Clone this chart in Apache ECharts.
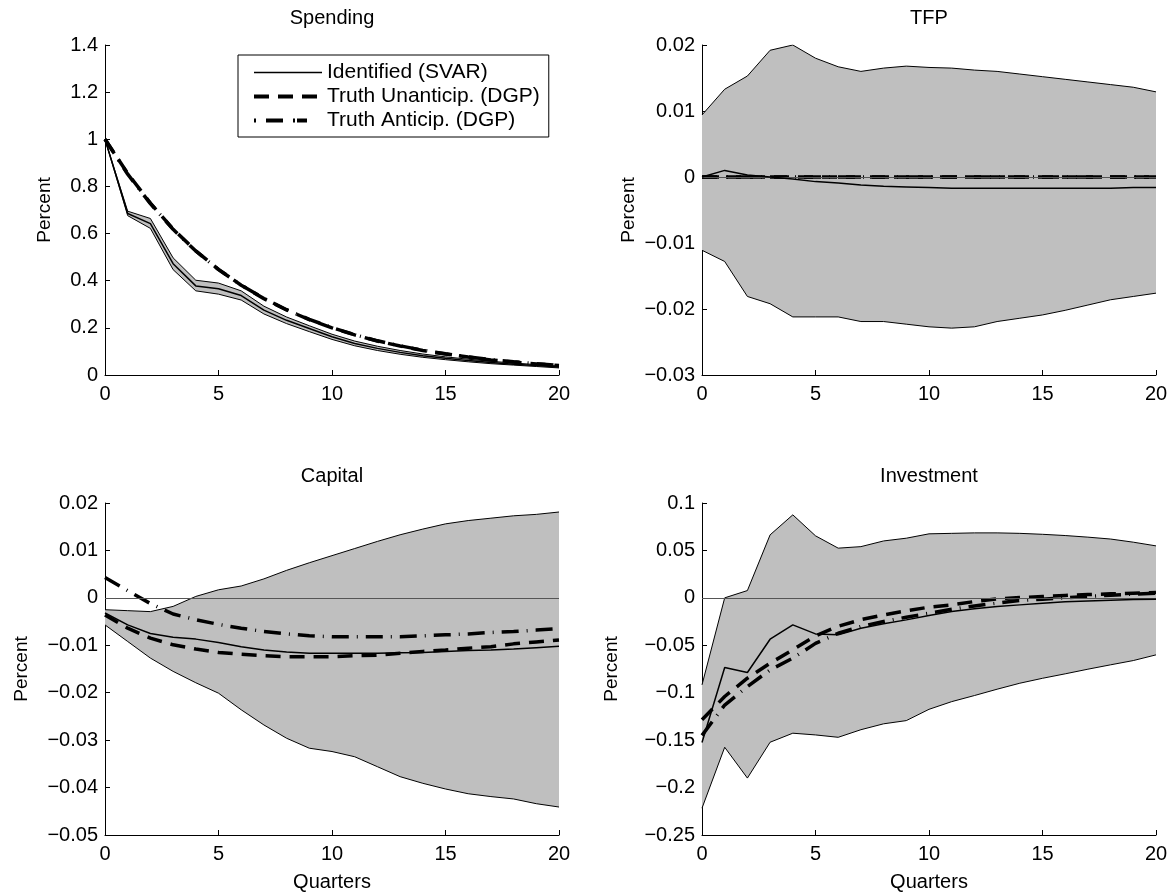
<!DOCTYPE html>
<html>
<head>
<meta charset="utf-8">
<script src="https://cdn.jsdelivr.net/npm/echarts@6/dist/echarts.min.js"></script>
<style>
  html, body { margin: 0; padding: 0; background: #fff; }
  #chart { width: 1173px; height: 893px; }
</style>
</head>
<body>
<div id="chart"></div>
<script>
// horizon (quarters)
const quarters = [0, 1, 2, 3, 4, 5, 6, 7, 8, 9, 10, 11, 12, 13, 14, 15, 16, 17, 18, 19, 20];

// Spending
const spendSvar  = [1, 0.685, 0.642, 0.472, 0.378, 0.366, 0.337, 0.275, 0.232, 0.197, 0.162, 0.134, 0.113, 0.096, 0.082, 0.071, 0.061, 0.053, 0.046, 0.040, 0.034];
const spendLo    = [1, 0.676, 0.622, 0.447, 0.357, 0.343, 0.318, 0.259, 0.218, 0.184, 0.151, 0.124, 0.104, 0.088, 0.075, 0.065, 0.056, 0.048, 0.042, 0.036, 0.030];
const spendHi    = [1, 0.695, 0.664, 0.497, 0.402, 0.390, 0.357, 0.292, 0.246, 0.209, 0.173, 0.144, 0.122, 0.104, 0.089, 0.077, 0.067, 0.058, 0.051, 0.044, 0.038];
const spendUnant = [1, 0.855, 0.729, 0.619, 0.527, 0.448, 0.381, 0.324, 0.276, 0.235, 0.200, 0.170, 0.144, 0.123, 0.104, 0.089, 0.076, 0.064, 0.055, 0.047, 0.040];
const spendAnt   = [1, 0.852, 0.727, 0.618, 0.526, 0.447, 0.381, 0.325, 0.277, 0.236, 0.201, 0.171, 0.145, 0.124, 0.105, 0.090, 0.077, 0.065, 0.056, 0.048, 0.041];

// TFP
const tfpSvar  = [0, 0.001, 0.0003, 0, -0.0003, -0.0007, -0.0009, -0.0012, -0.0014, -0.0015, -0.0016, -0.0017, -0.0017, -0.0017, -0.0017, -0.0017, -0.0017, -0.0017, -0.0017, -0.0016, -0.0016];
const tfpLo    = [-0.0111, -0.0128, -0.0181, -0.0192, -0.0212, -0.0212, -0.0212, -0.0219, -0.0219, -0.0223, -0.0227, -0.0229, -0.0227, -0.0219, -0.0214, -0.0209, -0.0202, -0.0194, -0.0186, -0.0181, -0.0176];
const tfpHi    = [0.0094, 0.0133, 0.0153, 0.0192, 0.0200, 0.0180, 0.0167, 0.0160, 0.0165, 0.0168, 0.0166, 0.0165, 0.0162, 0.0160, 0.0156, 0.0152, 0.0148, 0.0144, 0.0140, 0.0136, 0.0129];
const tfpUnant = [0, 0, 0, 0, 0, 0, 0, 0, 0, 0, 0, 0, 0, 0, 0, 0, 0, 0, 0, 0, 0];
const tfpAnt   = [0, 0, 0, 0, 0, 0, 0, 0, 0, 0, 0, 0, 0, 0, 0, 0, 0, 0, 0, 0, 0];

// Capital
const capSvar  = [-0.0032, -0.0057, -0.0075, -0.0083, -0.0087, -0.0094, -0.0103, -0.0110, -0.0114, -0.0117, -0.0117, -0.0117, -0.0117, -0.0116, -0.0115, -0.0113, -0.0111, -0.0110, -0.0108, -0.0105, -0.0102];
const capLo    = [-0.0057, -0.0092, -0.0127, -0.0155, -0.0179, -0.0201, -0.0236, -0.0268, -0.0296, -0.0317, -0.0324, -0.0335, -0.0356, -0.0377, -0.0391, -0.0403, -0.0413, -0.0419, -0.0424, -0.0434, -0.0441];
const capHi    = [-0.0025, -0.0027, -0.0029, -0.0018, 0.0003, 0.0017, 0.0025, 0.0040, 0.0058, 0.0074, 0.0089, 0.0104, 0.0119, 0.0133, 0.0145, 0.0156, 0.0163, 0.0168, 0.0173, 0.0176, 0.0181];
const capUnant = [-0.0036, -0.0064, -0.0085, -0.0099, -0.0108, -0.0115, -0.0119, -0.0122, -0.0124, -0.0124, -0.0124, -0.0122, -0.0121, -0.0117, -0.0113, -0.0110, -0.0106, -0.0103, -0.0097, -0.0093, -0.0089];
const capAnt   = [0.0043, 0.0015, -0.0012, -0.0034, -0.0046, -0.0056, -0.0064, -0.0071, -0.0076, -0.0080, -0.0082, -0.0082, -0.0082, -0.0082, -0.0080, -0.0078, -0.0076, -0.0073, -0.0071, -0.0068, -0.0065];

// Investment
const invSvar  = [-0.1525, -0.0734, -0.0787, -0.0436, -0.0285, -0.0380, -0.0390, -0.0320, -0.0274, -0.0232, -0.0187, -0.0144, -0.0116, -0.0092, -0.0074, -0.0056, -0.0042, -0.0032, -0.0025, -0.0018, -0.0014];
const invLo    = [-0.2217, -0.1575, -0.1900, -0.1522, -0.1427, -0.1445, -0.1470, -0.1390, -0.1328, -0.1294, -0.1175, -0.1094, -0.1030, -0.0963, -0.0900, -0.0848, -0.0801, -0.0752, -0.0706, -0.0661, -0.0601];
const invHi    = [-0.0917, 0, 0.0077, 0.0664, 0.0875, 0.0654, 0.0524, 0.0540, 0.0600, 0.0629, 0.0675, 0.0680, 0.0685, 0.0685, 0.0680, 0.0670, 0.0657, 0.0640, 0.0620, 0.0587, 0.0548];
const invUnant = [-0.1286, -0.1040, -0.0847, -0.0689, -0.0548, -0.0400, -0.0300, -0.0230, -0.0180, -0.0137, -0.0098, -0.0074, -0.0039, -0.0010, 0.0003, 0.0014, 0.0025, 0.0035, 0.0042, 0.0049, 0.0056];
const invAnt   = [-0.1450, -0.1130, -0.0935, -0.0760, -0.0636, -0.0480, -0.0373, -0.0302, -0.0250, -0.0204, -0.0162, -0.0120, -0.0085, -0.0056, -0.0028, -0.0014, 0, 0.0014, 0.0028, 0.0039, 0.0049];

const names = ['Identified (SVAR)', 'Truth Unanticip. (DGP)', 'Truth Anticip. (DGP)'];

const font = 'Liberation Sans, Arial, Helvetica, sans-serif';
const fs = 20;

const panels = [
    { title: 'Spending',   svar: spendSvar, lo: spendLo, hi: spendHi, unant: spendUnant, ant: spendAnt,
      min: 0, max: 1.4, interval: 0.2, zero: false, xname: '', ygap: 51 },
    { title: 'TFP',        svar: tfpSvar, lo: tfpLo, hi: tfpHi, unant: tfpUnant, ant: tfpAnt,
      min: -0.03, max: 0.02, interval: 0.01, zero: true, xname: '', ygap: 64 },
    { title: 'Capital',    svar: capSvar, lo: capLo, hi: capHi, unant: capUnant, ant: capAnt,
      min: -0.05, max: 0.02, interval: 0.01, zero: true, xname: 'Quarters', ygap: 74 },
    { title: 'Investment', svar: invSvar, lo: invLo, hi: invHi, unant: invUnant, ant: invAnt,
      min: -0.25, max: 0.1, interval: 0.05, zero: true, xname: 'Quarters', ygap: 81 }
];

const grids = [
    { left: 105, top: 45,  width: 454, height: 330 },
    { left: 702, top: 45,  width: 454, height: 330 },
    { left: 105, top: 503, width: 454, height: 332 },
    { left: 702, top: 503, width: 454, height: 332 }
];

function fmt(v) {
    return String(+v.toFixed(4)).replace('-', '\u2212');
}

function pairs(arr) {
    return quarters.map((q, i) => [q, arr[i]]);
}

let titles = [], xAxes = [], yAxes = [], series = [];

panels.forEach((p, k) => {
    let g = grids[k];
    titles.push({
        text: p.title,
        left: g.left + g.width / 2,
        top: g.top - 37,
        textAlign: 'center',
        padding: 0,
        textStyle: { fontSize: fs, fontWeight: 'normal', color: '#000', fontFamily: font }
    });
    xAxes.push({
        gridIndex: k, type: 'value', min: 0, max: 20, interval: 5,
        name: p.xname, nameLocation: 'middle', nameGap: 37,
        nameTextStyle: { fontSize: fs, color: '#000', fontFamily: font },
        axisLine: { show: true, onZero: false, lineStyle: { color: '#000', width: 1 } },
        axisTick: { show: true, inside: true, length: 5, lineStyle: { color: '#000' } },
        axisLabel: { color: '#000', fontSize: fs, fontFamily: font, margin: 9 },
        splitLine: { show: false }
    });
    yAxes.push({
        gridIndex: k, type: 'value', min: p.min, max: p.max, interval: p.interval,
        name: 'Percent', nameLocation: 'middle', nameGap: p.ygap,
        nameTextStyle: { fontSize: 19, color: '#000', fontFamily: font },
        axisLine: { show: true, onZero: false, lineStyle: { color: '#000', width: 1 } },
        axisTick: { show: true, inside: true, length: 5, lineStyle: { color: '#000' } },
        axisLabel: { color: '#000', fontSize: fs, fontFamily: font, margin: 7, formatter: fmt },
        splitLine: { show: false }
    });

    // shaded band
    series.push({
        type: 'custom', xAxisIndex: k, yAxisIndex: k, silent: true, clip: true, z: 1,
        data: quarters.map((q, i) => [q, p.lo[i], p.hi[i]]),
        encode: { x: 0, y: [1, 2] },
        renderItem: function (params, api) {
            if (params.dataIndex !== 0) return;
            let pts = [];
            for (let i = 0; i < quarters.length; i++) pts.push(api.coord([quarters[i], p.hi[i]]));
            for (let i = quarters.length - 1; i >= 0; i--) pts.push(api.coord([quarters[i], p.lo[i]]));
            return { type: 'polygon', shape: { points: pts }, style: { fill: '#bfbfbf', stroke: null } };
        }
    });

    let edge = {
        type: 'line', xAxisIndex: k, yAxisIndex: k, symbol: 'none', silent: true, z: 3,
        lineStyle: { color: '#000', width: 1 }
    };
    let lower = Object.assign({}, edge, { name: 'band-lo', data: pairs(p.lo) });
    if (p.zero) {
        lower.markLine = {
            silent: true, symbol: 'none', label: { show: false },
            lineStyle: { color: '#555', width: 1, type: 'solid' },
            data: [{ yAxis: 0 }]
        };
    }
    series.push(lower);
    series.push(Object.assign({}, edge, { name: 'band-hi', data: pairs(p.hi) }));

    series.push({
        name: names[1], type: 'line', xAxisIndex: k, yAxisIndex: k, symbol: 'none', z: 4,
        color: '#000', lineStyle: { color: '#000', width: 3.5, type: [15, 9] },
        data: pairs(p.unant)
    });
    series.push({
        name: names[2], type: 'line', xAxisIndex: k, yAxisIndex: k, symbol: 'none', z: 4,
        color: '#000', lineStyle: { color: '#000', width: 3.5, type: [17, 8, 1, 8] },
        data: pairs(p.ant)
    });
    series.push({
        name: names[0], type: 'line', xAxisIndex: k, yAxisIndex: k, symbol: 'none', z: 5,
        color: '#000', lineStyle: { color: '#000', width: 1.5 },
        data: pairs(p.svar)
    });
});

var myChart = echarts.init(document.getElementById('chart'));

let option = {
    animation: false,
    backgroundColor: '#fff',
    title: titles,
    legend: {
        data: [
            { name: names[0], lineStyle: { width: 1.5, type: 'solid' } },
            { name: names[1], lineStyle: { width: 4, type: [15, 9] } },
            { name: names[2], lineStyle: { width: 4, type: [2, 10, 17, 10, 2] } }
        ],
        orient: 'vertical',
        left: 238, top: 55,
        padding: [7, 9, 6, 14],
        itemGap: 3,
        itemWidth: 68, itemHeight: 14,
        borderColor: '#000', borderWidth: 1,
        backgroundColor: '#fff',
        selectedMode: false,
        itemStyle: { opacity: 0 },
        textStyle: { fontSize: 21, color: '#000', fontFamily: font }
    },
    grid: grids,
    xAxis: xAxes,
    yAxis: yAxes,
    series: series
};

myChart.setOption(option);
</script>
</body>
</html>
